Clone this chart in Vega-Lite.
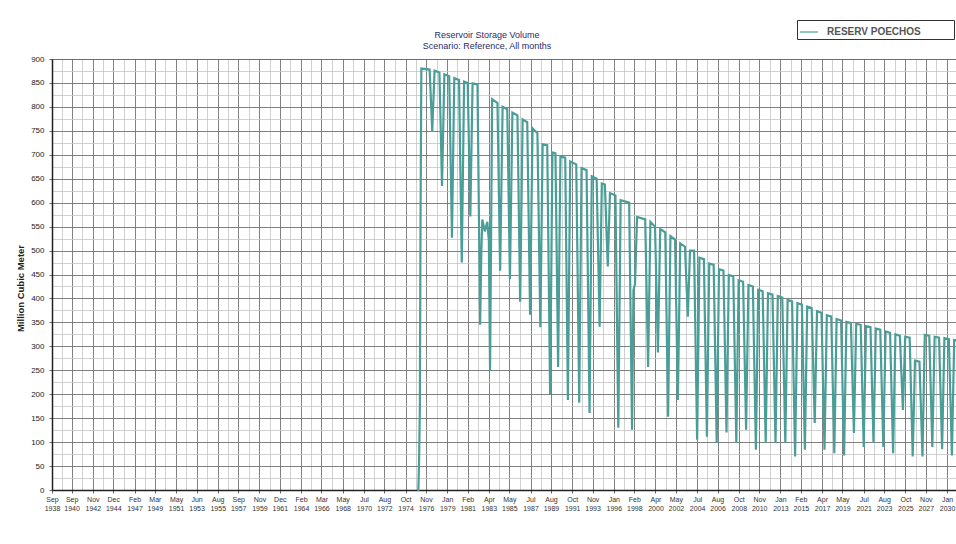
{
  "$schema": "https://vega.github.io/schema/vega-lite/v6.json",
  "width": 904,
  "height": 431,
  "autosize": {"type": "none"},
  "padding": {"left": 52, "top": 59, "right": 0, "bottom": 54},
  "background": "white",
  "config": {"view": {"stroke": "#444444", "strokeWidth": 1}, "font": "Liberation Sans"},
  "title": {"text": ["Reservoir Storage Volume", "Scenario: Reference, All months"], "fontSize": 9, "fontWeight": "normal", "color": "#2b2b6b", "offset": 9, "dx": -17, "dy": 40, "lineHeight": 11, "anchor": "middle"},
  "data": {"values": [
    {"date": "1975-12-15", "v": 0}, {"date": "1976-01-20", "v": 0}, {"date": "1976-02-15", "v": 60}, {"date": "1976-03-15", "v": 170}, {"date": "1976-04-10", "v": 560}, {"date": "1976-05-10", "v": 880},
    {"date": "1977-03-15", "v": 878}, {"date": "1977-06-20", "v": 750}, {"date": "1977-09-15", "v": 876},
    {"date": "1978-03-15", "v": 872}, {"date": "1978-06-20", "v": 635}, {"date": "1978-09-15", "v": 868},
    {"date": "1979-03-15", "v": 864}, {"date": "1979-06-25", "v": 527}, {"date": "1979-09-20", "v": 860},
    {"date": "1980-03-15", "v": 856}, {"date": "1980-06-25", "v": 475}, {"date": "1980-09-20", "v": 853},
    {"date": "1981-02-01", "v": 850}, {"date": "1981-05-10", "v": 571}, {"date": "1981-08-01", "v": 849},
    {"date": "1982-02-01", "v": 847}, {"date": "1982-05-10", "v": 345}, {"date": "1982-06-25", "v": 500}, {"date": "1982-08-01", "v": 565}, {"date": "1982-11-01", "v": 540}, {"date": "1983-02-01", "v": 560}, {"date": "1983-04-01", "v": 520}, {"date": "1983-05-15", "v": 249}, {"date": "1983-08-01", "v": 816},
    {"date": "1984-02-15", "v": 808}, {"date": "1984-05-25", "v": 458}, {"date": "1984-08-25", "v": 800},
    {"date": "1985-02-15", "v": 795}, {"date": "1985-05-25", "v": 440}, {"date": "1985-08-25", "v": 788},
    {"date": "1986-03-01", "v": 782}, {"date": "1986-06-10", "v": 393}, {"date": "1986-09-10", "v": 774},
    {"date": "1987-03-01", "v": 768}, {"date": "1987-06-15", "v": 366}, {"date": "1987-09-15", "v": 755},
    {"date": "1988-03-15", "v": 745}, {"date": "1988-07-01", "v": 340}, {"date": "1988-09-25", "v": 722},
    {"date": "1989-03-15", "v": 720}, {"date": "1989-07-01", "v": 200}, {"date": "1989-09-25", "v": 705},
    {"date": "1990-01-15", "v": 703}, {"date": "1990-04-25", "v": 257}, {"date": "1990-07-20", "v": 696},
    {"date": "1991-01-15", "v": 694}, {"date": "1991-04-25", "v": 188}, {"date": "1991-07-20", "v": 686},
    {"date": "1992-03-01", "v": 680}, {"date": "1992-06-20", "v": 182}, {"date": "1992-09-15", "v": 672},
    {"date": "1993-03-20", "v": 668}, {"date": "1993-07-10", "v": 161}, {"date": "1993-10-01", "v": 655},
    {"date": "1994-04-01", "v": 650}, {"date": "1994-07-20", "v": 341}, {"date": "1994-10-10", "v": 640},
    {"date": "1995-02-01", "v": 638}, {"date": "1995-05-20", "v": 467}, {"date": "1995-08-10", "v": 620},
    {"date": "1996-03-01", "v": 615}, {"date": "1996-06-15", "v": 130}, {"date": "1996-09-10", "v": 605},
    {"date": "1997-07-25", "v": 600}, {"date": "1997-11-10", "v": 126}, {"date": "1998-01-01", "v": 418}, {"date": "1998-03-01", "v": 430}, {"date": "1998-05-15", "v": 570},
    {"date": "1999-03-15", "v": 565}, {"date": "1999-07-01", "v": 257}, {"date": "1999-09-25", "v": 560},
    {"date": "2000-03-15", "v": 550}, {"date": "2000-07-01", "v": 287}, {"date": "2000-09-25", "v": 545},
    {"date": "2001-04-01", "v": 538}, {"date": "2001-07-15", "v": 153}, {"date": "2001-10-10", "v": 530},
    {"date": "2002-04-01", "v": 523}, {"date": "2002-07-15", "v": 188}, {"date": "2002-10-10", "v": 515},
    {"date": "2003-04-05", "v": 508}, {"date": "2003-07-20", "v": 362}, {"date": "2003-10-10", "v": 500},
    {"date": "2004-03-10", "v": 500}, {"date": "2004-07-01", "v": 105}, {"date": "2004-09-25", "v": 485},
    {"date": "2005-03-10", "v": 482}, {"date": "2005-07-01", "v": 111}, {"date": "2005-09-25", "v": 473},
    {"date": "2006-03-10", "v": 470}, {"date": "2006-07-01", "v": 98}, {"date": "2006-09-25", "v": 461},
    {"date": "2007-03-10", "v": 458}, {"date": "2007-07-01", "v": 120}, {"date": "2007-09-25", "v": 449},
    {"date": "2008-03-10", "v": 446}, {"date": "2008-07-01", "v": 98}, {"date": "2008-09-25", "v": 438},
    {"date": "2009-03-10", "v": 435}, {"date": "2009-07-01", "v": 126}, {"date": "2009-09-25", "v": 428},
    {"date": "2010-03-10", "v": 425}, {"date": "2010-07-01", "v": 84}, {"date": "2010-09-25", "v": 418},
    {"date": "2011-03-10", "v": 415}, {"date": "2011-07-01", "v": 98}, {"date": "2011-09-25", "v": 411},
    {"date": "2012-03-10", "v": 408}, {"date": "2012-07-01", "v": 98}, {"date": "2012-09-25", "v": 405},
    {"date": "2013-03-10", "v": 402}, {"date": "2013-07-01", "v": 98}, {"date": "2013-09-25", "v": 397},
    {"date": "2014-03-10", "v": 394}, {"date": "2014-07-01", "v": 70}, {"date": "2014-09-25", "v": 390},
    {"date": "2015-03-10", "v": 387}, {"date": "2015-07-01", "v": 84}, {"date": "2015-09-25", "v": 383},
    {"date": "2016-03-10", "v": 380}, {"date": "2016-07-01", "v": 140}, {"date": "2016-09-25", "v": 373},
    {"date": "2017-03-10", "v": 370}, {"date": "2017-07-01", "v": 84}, {"date": "2017-09-25", "v": 365},
    {"date": "2018-03-10", "v": 362}, {"date": "2018-07-01", "v": 77}, {"date": "2018-09-25", "v": 357},
    {"date": "2019-03-10", "v": 354}, {"date": "2019-07-01", "v": 72}, {"date": "2019-09-25", "v": 351},
    {"date": "2020-03-10", "v": 349}, {"date": "2020-07-01", "v": 119}, {"date": "2020-09-25", "v": 347},
    {"date": "2021-03-10", "v": 345}, {"date": "2021-07-01", "v": 90}, {"date": "2021-09-25", "v": 342},
    {"date": "2022-03-10", "v": 340}, {"date": "2022-07-01", "v": 98}, {"date": "2022-09-25", "v": 337},
    {"date": "2023-03-10", "v": 335}, {"date": "2023-07-01", "v": 90}, {"date": "2023-09-25", "v": 331},
    {"date": "2024-03-10", "v": 328}, {"date": "2024-07-01", "v": 77}, {"date": "2024-09-25", "v": 325},
    {"date": "2025-03-10", "v": 322}, {"date": "2025-07-01", "v": 167}, {"date": "2025-09-25", "v": 320},
    {"date": "2026-03-10", "v": 318}, {"date": "2026-07-01", "v": 70}, {"date": "2026-09-25", "v": 270},
    {"date": "2027-03-10", "v": 268}, {"date": "2027-07-01", "v": 70}, {"date": "2027-09-25", "v": 324},
    {"date": "2028-03-10", "v": 322}, {"date": "2028-07-01", "v": 90}, {"date": "2028-09-25", "v": 320},
    {"date": "2029-03-10", "v": 318}, {"date": "2029-07-01", "v": 85}, {"date": "2029-09-25", "v": 317},
    {"date": "2030-03-10", "v": 315}, {"date": "2030-07-01", "v": 72}, {"date": "2030-09-25", "v": 313},
    {"date": "2030-12-31", "v": 312}
  ]},
  "layer": [
    {
      "mark": {"type": "line", "strokeOpacity": 0},
      "encoding": {
        "x": {"field": "date", "type": "temporal",
          "scale": {"domain": [{"year": 1938, "month": 9, "date": 1}, {"year": 2030, "month": 12, "date": 1}]},
          "axis": {"orient": "bottom", "title": null, "labels": false, "ticks": false, "domain": false, "grid": true, "gridColor": "#c4c4c4", "gridWidth": 0.8,
            "values": [
              {"year": 1939, "month": 9, "date": 1}, {"year": 1941, "month": 10, "date": 1}, {"year": 1943, "month": 11, "date": 16}, {"year": 1946, "month": 1, "date": 1},
              {"year": 1948, "month": 2, "date": 16}, {"year": 1950, "month": 4, "date": 1}, {"year": 1952, "month": 5, "date": 16}, {"year": 1954, "month": 7, "date": 1},
              {"year": 1956, "month": 8, "date": 16}, {"year": 1958, "month": 10, "date": 1}, {"year": 1960, "month": 11, "date": 16}, {"year": 1963, "month": 1, "date": 1},
              {"year": 1965, "month": 2, "date": 16}, {"year": 1967, "month": 4, "date": 1}, {"year": 1969, "month": 6, "date": 1}, {"year": 1971, "month": 7, "date": 16},
              {"year": 1973, "month": 9, "date": 1}, {"year": 1975, "month": 10, "date": 16}, {"year": 1977, "month": 12, "date": 1}, {"year": 1980, "month": 1, "date": 16},
              {"year": 1982, "month": 3, "date": 1}, {"year": 1984, "month": 4, "date": 16}, {"year": 1986, "month": 6, "date": 1}, {"year": 1988, "month": 7, "date": 16},
              {"year": 1990, "month": 9, "date": 1}, {"year": 1992, "month": 10, "date": 16}, {"year": 1994, "month": 12, "date": 1}, {"year": 1997, "month": 1, "date": 16},
              {"year": 1999, "month": 3, "date": 1}, {"year": 2001, "month": 4, "date": 16}, {"year": 2003, "month": 6, "date": 1}, {"year": 2005, "month": 7, "date": 16},
              {"year": 2007, "month": 9, "date": 1}, {"year": 2009, "month": 10, "date": 16}, {"year": 2011, "month": 12, "date": 1}, {"year": 2014, "month": 1, "date": 16},
              {"year": 2016, "month": 3, "date": 1}, {"year": 2018, "month": 4, "date": 16}, {"year": 2020, "month": 6, "date": 1}, {"year": 2022, "month": 7, "date": 16},
              {"year": 2024, "month": 9, "date": 1}, {"year": 2026, "month": 10, "date": 16}, {"year": 2028, "month": 12, "date": 1}
            ]}},
        "y": {"field": "v", "type": "quantitative", "scale": {"domain": [0, 900], "nice": false},
          "axis": {"orient": "left", "title": null, "labels": false, "ticks": false, "domain": false, "grid": true, "gridColor": "#c4c4c4", "gridWidth": 0.8,
            "values": [25, 75, 125, 175, 225, 275, 325, 375, 425, 475, 525, 575, 625, 675, 725, 775, 825, 875]}}
      }
    },
    {
      "mark": {"type": "line", "strokeWidth": 2.2, "interpolate": "linear"},
      "encoding": {
        "x": {"field": "date", "type": "temporal",
          "scale": {"domain": [{"year": 1938, "month": 9, "date": 1}, {"year": 2030, "month": 12, "date": 1}]},
          "axis": {"orient": "bottom", "title": null, "grid": true, "gridColor": "#737373", "gridWidth": 0.9,
            "domainColor": "#222222", "domainWidth": 1.5, "tickColor": "#666666", "tickSize": 3,
            "labelExpr": "[timeFormat(datum.value, '%b'), timeFormat(datum.value, '%Y')]",
            "labelFontSize": 7, "labelLineHeight": 9, "labelColor": "#333333", "labelPadding": 2,
            "labelOverlap": false, "labelFlush": false, "labelBound": false,
            "values": [
              {"year": 1938, "month": 9, "date": 1}, {"year": 1940, "month": 9, "date": 1}, {"year": 1942, "month": 11, "date": 1}, {"year": 1944, "month": 12, "date": 1},
              {"year": 1947, "month": 2, "date": 1}, {"year": 1949, "month": 3, "date": 1}, {"year": 1951, "month": 5, "date": 1}, {"year": 1953, "month": 6, "date": 1},
              {"year": 1955, "month": 8, "date": 1}, {"year": 1957, "month": 9, "date": 1}, {"year": 1959, "month": 11, "date": 1}, {"year": 1961, "month": 12, "date": 1},
              {"year": 1964, "month": 2, "date": 1}, {"year": 1966, "month": 3, "date": 1}, {"year": 1968, "month": 5, "date": 1}, {"year": 1970, "month": 7, "date": 1},
              {"year": 1972, "month": 8, "date": 1}, {"year": 1974, "month": 10, "date": 1}, {"year": 1976, "month": 11, "date": 1}, {"year": 1979, "month": 1, "date": 1},
              {"year": 1981, "month": 2, "date": 1}, {"year": 1983, "month": 4, "date": 1}, {"year": 1985, "month": 5, "date": 1}, {"year": 1987, "month": 7, "date": 1},
              {"year": 1989, "month": 8, "date": 1}, {"year": 1991, "month": 10, "date": 1}, {"year": 1993, "month": 11, "date": 1}, {"year": 1996, "month": 1, "date": 1},
              {"year": 1998, "month": 2, "date": 1}, {"year": 2000, "month": 4, "date": 1}, {"year": 2002, "month": 5, "date": 1}, {"year": 2004, "month": 7, "date": 1},
              {"year": 2006, "month": 8, "date": 1}, {"year": 2008, "month": 10, "date": 1}, {"year": 2010, "month": 11, "date": 1}, {"year": 2013, "month": 1, "date": 1},
              {"year": 2015, "month": 2, "date": 1}, {"year": 2017, "month": 4, "date": 1}, {"year": 2019, "month": 5, "date": 1}, {"year": 2021, "month": 7, "date": 1},
              {"year": 2023, "month": 8, "date": 1}, {"year": 2025, "month": 10, "date": 1}, {"year": 2027, "month": 11, "date": 1}, {"year": 2030, "month": 1, "date": 1}
            ]}},
        "y": {"field": "v", "type": "quantitative", "scale": {"domain": [0, 900], "nice": false},
          "axis": {"orient": "left", "title": "Million Cubic Meter", "titleFontSize": 9.5, "titleFontWeight": "bold", "titleColor": "#222222", "titlePadding": 5, "titleY": 229,
            "grid": true, "gridColor": "#737373", "gridWidth": 0.9, "domainColor": "#222222", "domainWidth": 1.5, "tickColor": "#666666", "tickSize": 3,
            "labelFontSize": 8, "labelColor": "#222222", "labelPadding": 5,
            "values": [0, 50, 100, 150, 200, 250, 300, 350, 400, 450, 500, 550, 600, 650, 700, 750, 800, 850, 900]}},
        "color": {"datum": "RESERV POECHOS", "type": "nominal", "scale": {"range": ["#4a9e98"]},
          "legend": {"orient": "none", "legendX": 745, "legendY": -39, "title": "\u00a0\u00a0\u00a0", "titleOrient": "right", "titleFontSize": 10, "titlePadding": 31,
            "symbolType": "stroke", "symbolStrokeWidth": 1.2, "symbolSize": 324, "labelOffset": 8,
            "labelFontSize": 10, "labelFontWeight": "bold", "labelColor": "#555555", "fillColor": "white", "strokeColor": "#333333", "padding": 2}}
      }
    }
  ],
  "resolve": {"axis": {"x": "independent", "y": "independent"}}
}
